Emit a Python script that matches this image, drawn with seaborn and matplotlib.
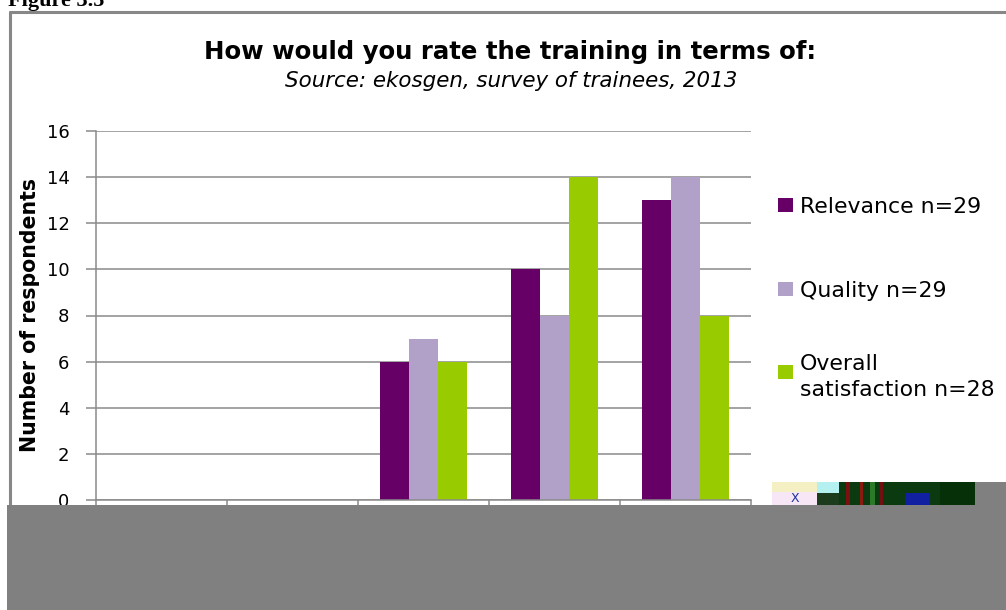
import matplotlib
matplotlib.use("Agg")
import matplotlib.pyplot as plt
from matplotlib.patches import Rectangle
from matplotlib.lines import Line2D
from matplotlib.ticker import FixedLocator
import seaborn as sns
import pandas as pd

# --- data -------------------------------------------------------------
categories = ["Very poor", "Poor", "Average", "Good", "Very good"]
series = ["Relevance n=29", "Quality n=29", "Overall\nsatisfaction n=28"]
relevance = [0, 0, 6, 10, 13]
quality = [0, 0, 7, 8, 14]
overall = [0, 0, 6, 14, 8]
y_ticks = [0, 2, 4, 6, 8, 10, 12, 14, 16]

title = "How would you rate the training in terms of:"
subtitle = "Source: ekosgen, survey of trainees, 2013"
y_label = "Number of respondents"
figure_caption = "Figure 3.5"

colors = ["#660066", "#B1A0C7", "#99CC00"]
grid_grey = "#8a8a8a"

# --- style ------------------------------------------------------------
sns.set_theme(style="white")
plt.rcParams["font.family"] = ["DejaVu Sans"]
plt.rcParams["text.color"] = "black"

W, H = 1006, 610
fig = plt.figure(figsize=(W / 100, H / 100), dpi=100)
fig.patch.set_facecolor("white")


def fx(px):
    return px / W


def fy(py):
    return 1 - py / H


df = pd.DataFrame({
    "rating": categories * 3,
    "series": [series[0]] * 5 + [series[1]] * 5 + [series[2]] * 5,
    "count": relevance + quality + overall,
})

ax = fig.add_axes([fx(96), fy(500), (751 - 96) / W, (500 - 131) / H])
sns.barplot(data=df, x="rating", y="count", hue="series", order=categories,
            hue_order=series, palette=colors, width=0.664, gap=0,
            saturation=1, legend=False, linewidth=0, ax=ax)

ax.set_xlim(-0.5, len(categories) - 0.5)
ax.set_ylim(0, 16)
ax.set_yticks(y_ticks)
ax.set_yticklabels([str(v) for v in y_ticks])
ax.yaxis.grid(True, color=grid_grey, lw=1.1)
ax.set_axisbelow(True)
ax.set_xlabel("")
ax.set_ylabel(y_label, fontsize=14.8, fontweight="bold", va="center", color="black")
ax.yaxis.set_label_coords((30 - 96) / 655, 0.5)

for side in ("top", "right"):
    ax.spines[side].set_visible(False)
for side in ("left", "bottom"):
    ax.spines[side].set_color(grid_grey)
    ax.spines[side].set_linewidth(1.1)

ax.tick_params(axis="y", direction="out", length=7, width=1.1, color=grid_grey,
               labelsize=13, labelcolor="black", pad=12, left=True)
ax.tick_params(axis="x", which="major", length=0, labelsize=12, labelcolor="black")
ax.xaxis.set_minor_locator(FixedLocator([i - 0.5 for i in range(len(categories) + 1)]))
ax.tick_params(axis="x", which="minor", direction="out", length=6, width=1.1,
               color=grid_grey, bottom=True)

# --- titles -----------------------------------------------------------
fig.text(fx(510), fy(52), title, ha="center", va="center", fontsize=17.6,
         fontweight="bold", color="black")
fig.text(fx(511), fy(81), subtitle, ha="center", va="center", fontsize=15.4,
         style="italic", color="black")

# --- legend -----------------------------------------------------------
legend_y = [205, 289, 372]
for label, color, yc in zip(series, colors, legend_y):
    fig.add_artist(Rectangle((fx(778), fy(yc + 7)), 15 / W, 14 / H,
                             transform=fig.transFigure, color=color, lw=0))
    fig.text(fx(800), fy(yc), label, ha="left", va="center_baseline",
             fontsize=15.8, linespacing=1.35, color="black")

# --- page frame and caption -------------------------------------------
frame = "#878787"
fig.add_artist(Line2D([fx(10), fx(10)], [fy(12), fy(505)], color=frame, lw=2.2,
                      transform=fig.transFigure))
fig.add_artist(Line2D([fx(10), 1], [fy(12), fy(12)], color=frame, lw=2.2,
                      transform=fig.transFigure))
fig.text(fx(8), fy(6), figure_caption, ha="left", va="baseline", fontsize=16,
         fontweight="bold", family=["Liberation Serif", "DejaVu Serif"])

# --- grey block over the lower edge and embedded strip -----------------
block = "#808080"
fig.add_artist(Rectangle((fx(7), 0), 1 - fx(7), 105 / H, transform=fig.transFigure,
                         color=block, lw=0, zorder=10))
fig.add_artist(Rectangle((fx(975), fy(505)), (W - 975) / W, 23 / H,
                         transform=fig.transFigure, color=block, lw=0, zorder=10))
strip = [
    (772, 482, 45, 10, "#f4f0c4"),
    (772, 492, 45, 13, "#f6e6f6"),
    (817, 482, 22, 11, "#b4f0f0"),
    (817, 493, 22, 12, "#1c3a1c"),
    (839, 482, 136, 23, "#0c3a10"),
    (846, 482, 4, 23, "#7a1010"),
    (860, 482, 3, 23, "#8a1a10"),
    (870, 482, 5, 23, "#2a7a2a"),
    (880, 482, 3, 23, "#701010"),
    (905, 493, 25, 12, "#1020a0"),
    (940, 482, 35, 23, "#063008"),
]
for x0, y0, w, h, c in strip:
    fig.add_artist(Rectangle((fx(x0), fy(y0 + h)), w / W, h / H,
                             transform=fig.transFigure, color=c, lw=0, zorder=11))
fig.text(fx(795), fy(498), "X", ha="center", va="center", fontsize=9,
         color="#2030a0", zorder=12)

fig.savefig("out.png", dpi=100, facecolor="white")
